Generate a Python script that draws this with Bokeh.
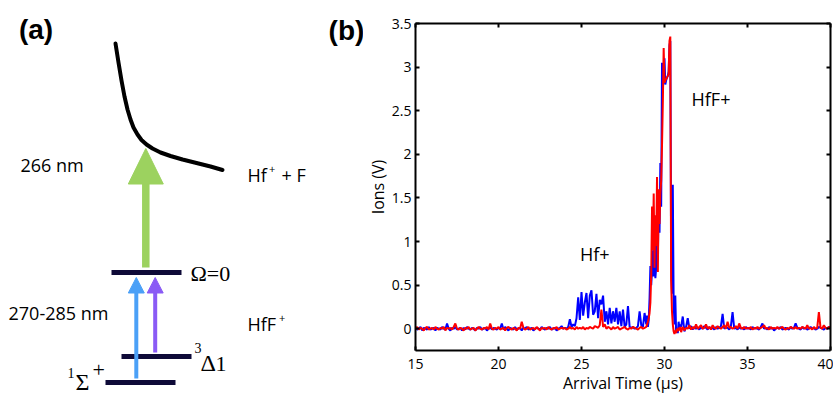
import numpy as np
from bokeh.plotting import figure
from bokeh.layouts import row
from bokeh.models import Range1d, LinearAxis, FixedTicker, NumeralTickFormatter, CustomJSTickFormatter
from bokeh.core.properties import value
from bokeh.embed import file_html
from bokeh.resources import INLINE

# ---------------- panel (b) data ----------------
# sampling grid of the digitiser (coarse baseline, fine around the HfF+ peak)
t_seg1 = np.round(np.arange(15.0, 28.85, 0.1), 2)     # 15.0 .. 28.8
t_seg2 = np.round(np.arange(28.9, 30.99, 0.05), 2)    # 28.9 .. 30.95
t_seg3 = np.round(np.arange(31.0, 40.05, 0.1), 2)     # 31.0 .. 40.0

blue_seg1 = [
    0.01, -0.01, 0.0, 0.02, -0.02, 0.01, 0.0, -0.01, 0.02, -0.01,
    0.0, 0.01, -0.02, 0.01, 0.0, -0.01, 0.02, 0.0, -0.01, 0.06,
    0.0, -0.02, 0.01, 0.0, 0.02, -0.01, 0.0, 0.01, -0.02, 0.01,
    -0.01, 0.02, 0.0, -0.01, 0.01, 0.0, -0.02, 0.01, 0.0, 0.02,
    -0.01, 0.0, 0.01, -0.02, 0.0, 0.02, -0.01, 0.01, 0.0, -0.01,
    0.01, 0.0, 0.06, -0.01, 0.02, 0.0, -0.02, 0.01, 0.0, -0.01,
    0.02, -0.01, 0.0, 0.01, -0.02, 0.01, 0.0, 0.02, -0.01, 0.0,
    0.01, -0.02, 0.0, 0.01, 0.0, -0.01, 0.02, 0.0, -0.01, 0.01,
    0.0, 0.02, -0.01, 0.0, 0.01, -0.02, 0.0, 0.01, 0.03, 0.0,
    0.01, 0.0, 0.02, 0.11, 0.02, 0.05, 0.03, 0.12, 0.36, 0.1,
    0.42, 0.15, 0.3, 0.41, 0.12, 0.38, 0.44, 0.16, 0.2, 0.4,
    0.12, 0.33, 0.28, 0.38, 0.08, 0.2, 0.05, 0.24, 0.06, 0.2,
    0.08, 0.24, 0.05, 0.2, 0.03, 0.22, 0.02, 0.05, 0.26, 0.02,
    0.01, 0.02, 0.0, 0.01, 0.03, 0.2, 0.04, 0.02, 0.18,
]
blue_seg2 = [
    0.05, 0.15, 0.02, 0.1, 0.35, 0.72, 0.5, 0.68, 0.9, 0.6,
    1.1, 0.58, 0.7, 1.3, 0.8, 1.5, 1.1, 1.9, 1.4, 3.05,
    2.75, 2.9, 3.1, 2.8, 2.85, 2.88, 2.9, 2.95, 3.25, 3.3,
    0.8, 0.4, 1.65, 0.3, 0.05, 0.38, -0.05, 0.0, -0.05, 0.08,
    0.0, 0.05,
]
blue_seg3 = [
    0.02, 0.14, -0.03, 0.02, 0.12, 0.0, 0.03, -0.01, 0.02, 0.0,
    0.01, -0.01, 0.02, 0.0, 0.03, 0.01, -0.01, 0.02, 0.0, 0.01,
    -0.01, 0.02, 0.0, 0.01, 0.03, 0.17, 0.0, 0.02, 0.01, -0.01,
    0.03, 0.19, 0.0, 0.01, -0.01, 0.02, 0.0, 0.01, -0.01, 0.02,
    0.0, 0.01, -0.01, 0.02, 0.0, 0.01, 0.0, -0.01, 0.02, 0.06,
    0.0, 0.01, -0.01, 0.02, 0.0, 0.01, -0.02, 0.0, 0.01, 0.0,
    0.02, -0.01, 0.0, 0.01, 0.0, -0.01, 0.02, 0.0, 0.01, 0.06,
    0.01, 0.0, -0.01, 0.02, 0.0, 0.01, -0.01, 0.0, 0.02, 0.0,
    0.01, -0.01, 0.0, 0.02, 0.01, 0.0, -0.01, 0.01, 0.0, 0.02,
    0.0,
]

red_seg1 = [
    0.0, 0.02, -0.01, 0.01, 0.0, -0.02, 0.01, 0.02, -0.01, 0.0,
    0.01, -0.01, 0.02, 0.0, -0.01, 0.01, 0.0, 0.02, -0.02, 0.01,
    0.0, 0.01, -0.01, 0.02, 0.06, 0.0, -0.01, 0.01, 0.0, -0.02,
    0.01, 0.0, 0.02, -0.01, 0.0, 0.01, -0.02, 0.0, 0.02, 0.0,
    -0.01, 0.01, 0.0, 0.02, -0.01, 0.06, 0.0, -0.01, 0.01, 0.0,
    0.02, -0.01, 0.0, 0.01, -0.02, 0.01, 0.02, 0.0, -0.01, 0.01,
    0.0, -0.02, 0.01, 0.0, 0.08, 0.01, -0.01, 0.0, 0.02, -0.01,
    0.0, 0.01, -0.01, 0.02, 0.0, -0.02, 0.01, 0.0, 0.01, -0.01,
    0.02, 0.0, -0.01, 0.01, 0.0, 0.02, -0.01, 0.0, 0.01, 0.0,
    0.01, -0.01, 0.0, 0.02, 0.0, 0.01, -0.01, 0.02, 0.0, 0.01,
    0.0, 0.02, -0.01, 0.01, 0.0, 0.02, 0.01, 0.0, 0.03, 0.02,
    0.01, 0.04, 0.22, 0.02, 0.05, 0.0, 0.02, 0.01, -0.01, 0.02,
    0.0, 0.01, 0.02, -0.01, 0.0, 0.01, 0.02, 0.0, -0.01, 0.01,
    0.0, 0.02, 0.01, 0.0, -0.01, 0.01, 0.02, 0.0, 0.01,
]
red_seg2 = [
    0.02, 0.05, 0.08, 0.12, 0.18, 0.3, 0.62, 1.4, 0.9, 1.55,
    0.7, 1.3, 0.95, 1.74, 0.65, 1.6, 1.2, 1.55, 1.7, 2.1,
    2.6, 3.22, 2.82, 2.85, 2.86, 2.88, 2.9, 2.92, 3.3, 3.35,
    0.55, 0.2, 0.05, -0.03, -0.06, -0.02, -0.05, 0.0, -0.03, 0.01,
    -0.02, 0.02,
]
red_seg3 = [
    -0.04, 0.02, -0.02, 0.01, 0.0, 0.04, -0.01, 0.02, 0.0, 0.05,
    0.0, 0.02, 0.04, 0.0, 0.01, 0.05, 0.0, 0.02, -0.01, 0.04,
    0.01, 0.0, 0.03, 0.01, 0.0, 0.02, 0.04, 0.0, 0.08, 0.01,
    0.02, 0.0, 0.01, 0.03, 0.0, 0.06, 0.01, 0.0, 0.02, 0.0,
    0.01, 0.0, 0.02, -0.01, 0.01, 0.0, 0.02, 0.0, 0.01, 0.02,
    0.04, 0.0, 0.01, -0.01, 0.02, 0.0, 0.01, 0.0, 0.02, 0.0,
    0.01, 0.02, 0.0, -0.01, 0.01, 0.0, 0.02, 0.01, 0.0, 0.02,
    0.0, 0.01, 0.0, 0.02, 0.01, 0.0, 0.04, 0.0, 0.01, -0.01,
    0.02, 0.0, 0.01, 0.19, 0.01, 0.0, 0.04, 0.01, 0.0, 0.02,
    0.01,
]

x_ticks = [15, 20, 25, 30, 35, 40]
y_ticks = [0, 0.5, 1, 1.5, 2, 2.5, 3, 3.5]

# ---------------- panel (a) data (diagram, in picture pixels) ----------------
level_x0 = [111, 121, 105]          # Omega=0, 3Delta1, 1Sigma+
level_x1 = [181, 191, 175]
level_y = [272, 356, 382]

arrow_x = [145.3, 135.8, 154.7]     # 266 nm, 270-285 nm (x2)
arrow_base = [267, 378, 352]
arrow_tip = [148, 277, 277]
arrow_shaft_w = [7.5, 4, 4]
arrow_head_w = [35, 16, 16]
arrow_head_len = [35, 15, 15]
arrow_colors = ["#9cd25f", "#4ba0f7", "#8a5bf5"]

curve_x = [115, 118, 121, 124, 127, 130, 133, 137, 141, 146, 152, 160, 170, 182, 196, 210, 222]
curve_y = [43, 62, 80, 96, 109, 119, 127, 134, 139.5, 144, 148, 152, 155.5, 159, 162.5, 166, 169.5]

W_A, W_B, H = 363, 470, 398

# ---------------- panel (a) ----------------
fa = figure(width=W_A, height=H, x_range=Range1d(0, W_A), y_range=Range1d(H, 0),
            output_backend="svg", toolbar_location=None, min_border=0,
            x_axis_location=None, y_axis_location=None)
fa.grid.visible = False
fa.outline_line_color = None

fa.line(curve_x, curve_y, line_color="black", line_width=4, line_cap="round", line_join="round")
fa.segment(x0=level_x0, y0=level_y, x1=level_x1, y1=level_y, line_color="#0e0a38", line_width=5)

shaft_top = [tp + hl for tp, hl in zip(arrow_tip, arrow_head_len)]
fa.segment(x0=arrow_x, y0=arrow_base, x1=arrow_x, y1=shaft_top,
           line_color=arrow_colors, line_width=arrow_shaft_w, line_cap="butt")
head_xs = [[x - w / 2, x, x + w / 2] for x, w in zip(arrow_x, arrow_head_w)]
head_ys = [[tp + hl + 0.5, tp, tp + hl + 0.5] for tp, hl in zip(arrow_tip, arrow_head_len)]
fa.patches(head_xs, head_ys, fill_color=arrow_colors, line_color=arrow_colors, line_width=1)

sans = value("Open Sans")
serif = value("Liberation Serif")

def txt(fig, x, y, s, size, font=sans, align="left", style="normal"):
    fig.text(x=[x], y=[y], text=[s], text_font=font, text_font_size=size,
             text_align=align, text_baseline="middle", text_color="black",
             text_font_style=style)

txt(fa, 35.5, 29, "(a)", "28px", font=value("Liberation Sans"), align="center", style="bold")
txt(fa, 346, 30, "(b)", "28px", font=value("Liberation Sans"), align="center", style="bold")
txt(fa, 20, 164, "266 nm", "18px")
txt(fa, 8, 312, "270-285 nm", "18px")
txt(fa, 247, 174, "Hf", "18px")
txt(fa, 268.5, 168, "+", "11px")
txt(fa, 281, 174, "+ F", "18px")
txt(fa, 247, 323, "HfF", "18px")
txt(fa, 278.5, 317, "+", "11px")
txt(fa, 190, 273, "Ω=0", "22px", font=serif)
txt(fa, 194, 347, "3", "14px", font=serif)
txt(fa, 200, 362, "Δ", "24px", font=serif)
txt(fa, 215, 363, "1", "22px", font=serif)
txt(fa, 67, 372, "1", "14px", font=serif)
txt(fa, 75, 381, "Σ", "24px", font=serif)
txt(fa, 92, 369, "+", "22px", font=serif)

# ---------------- panel (b) ----------------
fb = figure(width=W_B, height=H, x_range=Range1d(15, 40), y_range=Range1d(-0.25, 3.5),
            output_backend="svg", toolbar_location=None,
            min_border_left=52, min_border_right=3, min_border_top=23, min_border_bottom=48)
fb.grid.visible = False
fb.outline_line_color = None

for f in (fa, fb):
    try:
        f.frame_align = False
    except Exception:
        pass

t_all = np.concatenate([t_seg1, t_seg2, t_seg3])
blue_all = np.array(blue_seg1 + blue_seg2 + blue_seg3)
red_all = np.array(red_seg1 + red_seg2 + red_seg3)
n = min(len(t_all), len(blue_all), len(red_all))
fb.line(t_all[:n], blue_all[:n], line_color="#0000ff", line_width=2)
fb.line(t_all[:n], red_all[:n], line_color="#ff0000", line_width=2)

def style_axis(ax, ticks, show_labels=True):
    ax.ticker = FixedTicker(ticks=ticks)
    ax.major_tick_in = 4
    ax.major_tick_out = 0
    ax.minor_tick_in = 0
    ax.minor_tick_out = 0
    ax.axis_line_width = 2
    ax.axis_line_color = "black"
    ax.major_tick_line_width = 2
    ax.major_tick_line_color = "black"
    ax.major_label_text_font = "Open Sans"
    ax.major_label_text_color = "black"
    ax.major_label_text_font_size = "14px"
    if not show_labels:
        ax.formatter = CustomJSTickFormatter(code="return ''")
        ax.major_label_standoff = 0

style_axis(fb.xaxis[0], x_ticks)
fb.xaxis[0].major_label_standoff = 8
fb.xaxis[0].axis_label = "Arrival Time (µs)"
fb.xaxis[0].axis_label_standoff = 0
style_axis(fb.yaxis[0], y_ticks)
fb.yaxis[0].major_label_standoff = 4
fb.yaxis[0].formatter = NumeralTickFormatter(format="0.[0]")
fb.yaxis[0].axis_label = "Ions (V)"
fb.yaxis[0].axis_label_standoff = 0
for ax in (fb.xaxis[0], fb.yaxis[0]):
    ax.axis_label_text_font = "Open Sans"
    ax.axis_label_text_font_size = "16px"
    ax.axis_label_text_font_style = "normal"
    ax.axis_label_text_color = "black"

top_ax = LinearAxis()
style_axis(top_ax, x_ticks, show_labels=False)
fb.add_layout(top_ax, "above")
right_ax = LinearAxis()
style_axis(right_ax, y_ticks, show_labels=False)
fb.add_layout(right_ax, "right")

fb.text(x=[32.8], y=[2.63], text=["HfF+"], text_font=sans, text_font_size="18px",
        text_align="center", text_baseline="middle", text_color="black")
fb.text(x=[25.8], y=[0.86], text=["Hf+"], text_font=sans, text_font_size="18px",
        text_align="center", text_baseline="middle", text_color="black")

layout = row(fa, fb)
open("out.html", "w").write(file_html(layout, INLINE))
